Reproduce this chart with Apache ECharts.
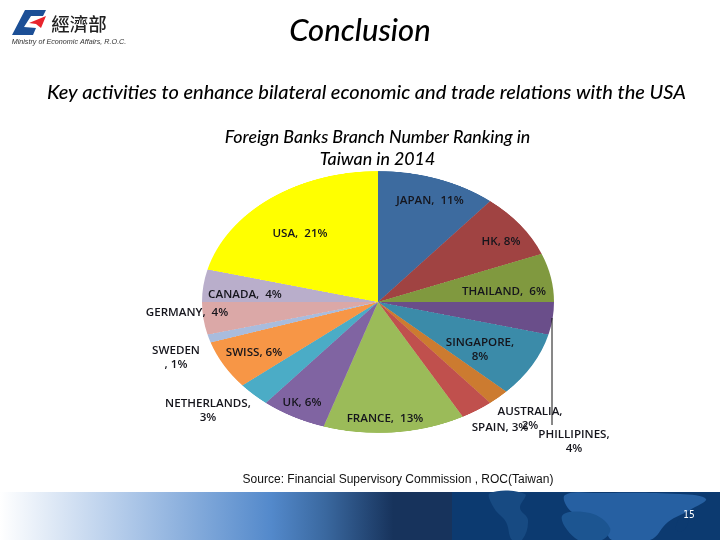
<!DOCTYPE html>
<html>
<head>
<meta charset="utf-8">
<title>Foreign Banks Branch Number Ranking in Taiwan in 2014</title>
<script src="https://cdn.jsdelivr.net/npm/echarts@6/dist/echarts.min.js"></script>
<style>
html,body{margin:0;padding:0;background:#fff;width:720px;height:540px;overflow:hidden}
#pie{position:absolute;left:201.5px;top:126px;width:352px;height:352px;transform:scaleY(0.744);transform-origin:50% 50%}
#page{position:absolute;left:0;top:0;width:720px;height:540px}
</style>
</head>
<body>
<div id="pie"></div>
<div id="page"></div>
<script>
var categories = ['JAPAN','HK','THAILAND','PHILLIPINES','SINGAPORE','AUSTRALIA','SPAIN','FRANCE','UK','NETHERLANDS','SWISS','SWEDEN','GERMANY','CANADA','USA'];
var shares = [11,8,6,4,8,2,3,13,6,3,6,1,4,4,21];
var colors = ['#3d6b9f','#a04342','#80993f','#6a4e8a','#3b8ba9','#cc7b30','#c0504d','#9bbb59','#8064a2','#4bacc6','#f79646','#a9bcdd','#dba8a7','#b9aecb','#ffff00'];
var labelX = [430,501,504,574,480,530,500,385,302,208,254,176,187,245,300];
var labelY = [201,242,292,442,350,419,428,419,403,411,353,358,313,295,234];
var wrapped = {PHILLIPINES:1,SINGAPORE:1,AUSTRALIA:1,NETHERLANDS:1,SWEDEN:1};
var tight = {HK:1,SWISS:1,UK:1,SPAIN:1};

var pie = echarts.init(document.getElementById('pie'), null, {renderer:'canvas', devicePixelRatio:2});
pie.setOption({
    animation: false,
    series: [{
        type: 'pie',
        radius: ['0%','100%'],
        center: ['50%','50%'],
        startAngle: 90,
        clockwise: true,
        label: {show:false},
        labelLine: {show:false},
        silent: true,
        data: categories.map(function(name,i){
            return {name:name, value:shares[i], itemStyle:{color:colors[i]}};
        })
    }]
});

function sliceLabel(name,i){
    var text;
    if(name=='SWEDEN') text = name+'\n, '+shares[i]+'%';
    else if(wrapped[name]) text = name+',\n'+shares[i]+'%';
    else if(tight[name]) text = name+', '+shares[i]+'%';
    else text = name+',  '+shares[i]+'%';
    return {
        type:'text', x:labelX[i], y:labelY[i], z:20, scaleX:1.16,
        style:{text:text, fill:'#15151c', font:'600 10px "Open Sans"', align:'center', verticalAlign:'middle', lineHeight:14}
    };
}

function blob(points,fill){
    return {type:'polygon', z:6, shape:{points:points, smooth:0.4}, style:{fill:fill}};
}

var items = [
    // footer band
    {type:'rect', z:1, shape:{x:0,y:492,width:452,height:48}, style:{fill:new echarts.graphic.LinearGradient(0,0,1,0,[
        {offset:0,color:'#ffffff'},{offset:0.28,color:'#b0c9e9'},{offset:0.6,color:'#5389cb'},{offset:0.72,color:'#3a689f'},{offset:0.87,color:'#17335c'},{offset:1,color:'#17335c'}
    ])}},
    {type:'rect', z:2, shape:{x:452,y:492,width:268,height:48}, style:{fill:'#0c3a70'}},
    blob([[490,493],[525,494],[520,508],[528,520],[522,540],[512,540],[506,522],[494,508]],'#174a82'),
    blob([[565,495],[600,493],[680,494],[706,499],[690,510],[668,522],[650,540],[612,540],[602,522],[572,512]],'#2660a2'),
    blob([[562,516],[590,513],[610,528],[602,540],[578,540]],'#1c5591'),
    blob([[680,518],[688,520],[684,530],[676,530]],'#0c3a70'),
    {type:'text', x:689, y:515, z:20, style:{text:'15', fill:'#ffffff', font:'10px "DejaVu Sans Condensed"', align:'center', verticalAlign:'middle'}},

    // logo
    {type:'polygon', z:5, shape:{points:[[25,10],[46,10],[43,16],[31,16],[24,27],[36,28],[33,35],[12,35]]}, style:{fill:'#1c4f96'}},
    {type:'polygon', z:5, shape:{points:[[29,23],[46,16],[41,28],[36,24]]}, style:{fill:'#e8242c'}},
    {type:'text', x:79, y:24, z:5, style:{text:'經濟部', fill:'#222', font:'500 18.5px "Noto Sans CJK TC"', align:'center', verticalAlign:'middle'}},
    {type:'text', x:69, y:42, z:5, style:{text:'Ministry of Economic Affairs, R.O.C.', fill:'#333', font:'italic 7.2px "Liberation Sans"', align:'center', verticalAlign:'middle'}},

    // slide texts
    {type:'text', x:360, y:31, z:5, style:{text:'Conclusion', fill:'#000', font:'italic 500 31px Lato', align:'center', verticalAlign:'middle'}},
    {type:'text', x:366.5, y:93, z:5, style:{text:'Key activities to enhance bilateral economic and trade relations with the USA', fill:'#000', font:'italic 500 20px Lato', align:'center', verticalAlign:'middle'}},
    {type:'text', x:377.5, y:148, z:5, style:{text:'Foreign Banks Branch Number Ranking in\nTaiwan in 2014', fill:'#000', font:'italic 500 17.8px Lato', align:'center', verticalAlign:'middle', lineHeight:22}},
    {type:'text', x:398, y:480, z:5, style:{text:'Source: Financial Supervisory Commission , ROC(Taiwan)', fill:'#111', font:'12px "Liberation Sans"', align:'center', verticalAlign:'middle'}},

    // leader line for the PHILLIPINES slice
    {type:'line', z:15, shape:{x1:552,y1:318,x2:552,y2:425}, style:{stroke:'#111',lineWidth:1}}
];

var page = echarts.init(document.getElementById('page'));
page.setOption({
    animation: false,
    backgroundColor: 'transparent',
    graphic: {elements: items.concat(categories.map(sliceLabel))}
});
</script>
</body>
</html>
